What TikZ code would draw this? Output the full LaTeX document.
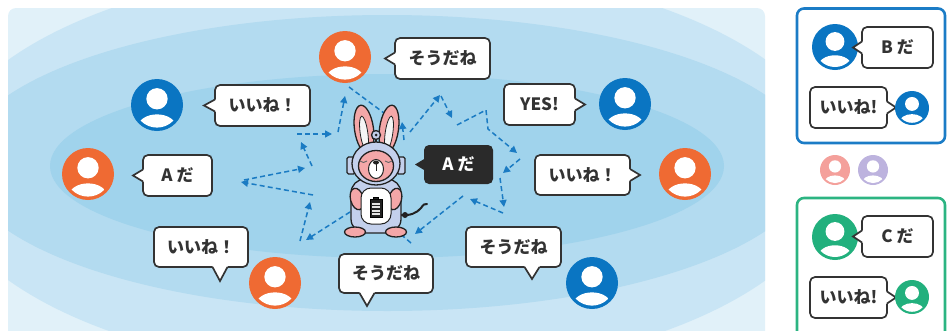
\documentclass[tikz,border=0pt]{standalone}
\usepackage{fontspec}
\newfontfamily\jp{Noto Sans CJK JP}
\usetikzlibrary{arrows.meta,calc}

\definecolor{bgA}{HTML}{E1F1F9}
\definecolor{bgB}{HTML}{C9E5F5}
\definecolor{bgC}{HTML}{B3DBF0}
\definecolor{bgD}{HTML}{A0D3EC}
\definecolor{porange}{HTML}{EF6A33}
\definecolor{pblue}{HTML}{0A75C2}
\definecolor{pgreen}{HTML}{22B07D}
\definecolor{ppink}{HTML}{F4A09B}
\definecolor{plilac}{HTML}{BDB3DE}
\definecolor{boxblue}{HTML}{1B7CC6}
\definecolor{boxgreen}{HTML}{2CB482}
\definecolor{ink}{HTML}{333333}
\definecolor{darkbub}{HTML}{2A2A2A}
\definecolor{flow}{HTML}{1A7BC3}
\definecolor{rpink}{HTML}{F4A7A8}
\definecolor{rsuit}{HTML}{C3D0EC}
\definecolor{rline}{HTML}{222222}

\tikzset{
  person/.style 2 args={circle, inner sep=0pt, outer sep=0pt, minimum size={2*#2}, fill=#1,
    path picture={
      \begin{scope}[shift={(path picture bounding box.center)}]
        \fill[white] (0,-0.24*#2) circle (0.41*#2);
        \clip (0,0) circle (0.87*#2);
        \fill[white] (0,0.86*#2) ellipse (0.74*#2 and 0.5*#2);
      \end{scope}}},
  bubble/.style={draw=ink, line width=1.7pt, fill=white, rounded corners=5pt,
    inner sep=0pt, outer sep=0pt, text=ink, font=\jp\bfseries\fontsize{17}{17}\selectfont},
  darkbubble/.style={fill=darkbub, rounded corners=5pt, inner sep=0pt, outer sep=0pt,
    text=white, font=\jp\bfseries\fontsize{17}{17}\selectfont},
  tipline/.style={draw=ink, line width=1.7pt},
  flowline/.style={draw=flow, line width=1.5pt, dash pattern=on 5pt off 3.2pt},
  flowarrow/.style={flowline, -{Triangle[length=7pt,width=7pt]}},
  rabbitline/.style={draw=rline, line width=1.3pt},
}

% side pointer of a speech bubble: base point, signed tip length, signed inward shift
\newcommand\tipH[3]{%
  \fill[white] ($(#1)+(#3,-6)$) -- ($(#1)+(0,-6)$) -- ($(#1)+(#2,0)$) -- ($(#1)+(0,6)$) -- ($(#1)+(#3,6)$) -- cycle;
  \draw[tipline] ($(#1)+(0,-6)$) -- ($(#1)+(#2,0)$) -- ($(#1)+(0,6)$);}
% bottom pointer of a speech bubble
\newcommand\tipV[3]{%
  \fill[white] ($(#1)+(-7.5,#3)$) -- ($(#1)+(-7.5,0)$) -- ($(#1)+(0,#2)$) -- ($(#1)+(7.5,0)$) -- ($(#1)+(7.5,#3)$) -- cycle;
  \draw[tipline] ($(#1)+(-7.5,0)$) -- ($(#1)+(0,#2)$) -- ($(#1)+(7.5,0)$);}

\begin{document}
\begin{tikzpicture}[x=1pt, y=-1pt]
\useasboundingbox (0,0) rectangle (947,330);

% ---------- main panel with layered ellipses ----------
\fill[bgA, rounded corners=8pt] (8,8) rectangle (765,345);
\begin{scope}
  \clip[rounded corners=8pt] (8,8) rectangle (765,345);
  \fill[bgB] (387,170) ellipse (449 and 205);
  \fill[bgC] (387,163) ellipse (426 and 148);
  \fill[bgD] (387,166) ellipse (337 and 92);
\end{scope}

% ---------- dashed message flow ----------
\coordinate (k1) at (313,195);  \coordinate (k2) at (241,182);
\coordinate (k3) at (244,180);  \coordinate (k4) at (305,168);
\coordinate (k5) at (312,166);  \coordinate (k6) at (301,142);
\coordinate (k7) at (297,134);  \coordinate (k8) at (332,134);
\coordinate (k9) at (338,132);  \coordinate (k10) at (345,96);
\coordinate (k11) at (349,87);  \coordinate (k12) at (384,113);
\coordinate (k13) at (404,140); \coordinate (k14) at (402,122);
\coordinate (k15) at (410,132); \coordinate (k16) at (440,95);
\coordinate (k17) at (441,96);  \coordinate (k18) at (452,118);
\coordinate (k19) at (457,125); \coordinate (k20) at (486,110);
\coordinate (k21) at (488,129); \coordinate (k22) at (517,153);
\coordinate (k23) at (520,159); \coordinate (k24) at (503,173);
\coordinate (k25) at (500,178); \coordinate (k26) at (504,207);
\coordinate (k27) at (503,213); \coordinate (k28) at (470,199);
\coordinate (k29) at (463,196); \coordinate (k30) at (415,234);
\coordinate (k31) at (411,243); \coordinate (k32) at (397,231);
\coordinate (k33) at (350,212); \coordinate (k34) at (306,240);
\coordinate (k35) at (300,241); \coordinate (k36) at (310,202);

\draw[flowarrow] (k1) -- (k2);
\draw[flowarrow] (k3) -- (k4);
\draw[flowarrow] (k5) -- (k6);
\draw[flowarrow] (k7) -- (k8);
\draw[flowarrow] (k9) -- (k10);
\draw[flowline]  (k11) -- (k12);
\draw[flowarrow] (k13) -- (k14);
\draw[flowarrow] (k15) -- (k16);
\draw[flowarrow] (k17) -- (k18);
\draw[flowarrow] (k19) -- (k20) -- (k21) -- (k22);
\draw[flowarrow] (k23) -- (k24);
\draw[flowarrow] (k25) -- (k26);
\draw[flowarrow] (k27) -- (k28);
\draw[flowarrow] (k29) -- (k30);
\draw[flowline]  (k31) -- (k32);
\draw[flowarrow] (k33) -- (k34);
\draw[flowarrow] (k35) -- (k36);

% ---------- people around the robot ----------
\node[person={porange}{26}] (p1) at (345,57) {};
\node[person={pblue}{26}]   (p2) at (157,105) {};
\node[person={porange}{26}] (p3) at (88,174) {};
\node[person={porange}{26}] (p4) at (275,283) {};
\node[person={pblue}{26}]   (p5) at (625,104) {};
\node[person={porange}{26}] (p6) at (685,174) {};
\node[person={pblue}{26}]   (p7) at (592,283) {};

% ---------- speech bubbles ----------
\node[bubble, minimum width=95pt, minimum height=41pt] (b1) at (262.5,105.5) {いいね！};
\tipH{b1.west}{-11}{2}
\node[bubble, minimum width=69pt, minimum height=41pt] (b2) at (177.5,175.5) {A だ};
\tipH{b2.west}{-10}{2}
\node[bubble, minimum width=94pt, minimum height=40pt] (b3) at (201,247) {いいね！};
\coordinate (b3p) at ($(b3.south)+(19,0)$);
\tipV{b3p}{14}{-2}
\node[bubble, minimum width=95pt, minimum height=41pt] (b4) at (442.5,58.5) {そうだね};
\tipH{b4.west}{-10}{2}
\node[bubble, minimum width=71pt, minimum height=41pt] (b5) at (539.5,104.5) {YES!};
\tipH{b5.east}{10}{-2}
\node[bubble, minimum width=95pt, minimum height=40pt] (b7) at (582.5,175) {いいね！};
\tipH{b7.east}{10}{-2}
\node[bubble, minimum width=94pt, minimum height=39pt] (b8) at (386,273.5) {そうだね};
\coordinate (b8p) at ($(b8.south)+(-19,0)$);
\tipV{b8p}{13}{-2}
\node[bubble, minimum width=95pt, minimum height=40pt] (b9) at (513.5,247) {そうだね};
\coordinate (b9p) at ($(b9.south)+(18.5,0)$);
\tipV{b9p}{12}{-2}

% the robot's own message
\node[darkbubble, minimum width=69pt, minimum height=39pt] (b6) at (458.5,164.5) {A だ};
\fill[darkbub] ($(b6.west)+(1,-6)$) -- ($(b6.west)+(-9,0)$) -- ($(b6.west)+(1,6)$) -- cycle;

% ---------- rabbit robot ----------
% ears
\filldraw[fill=rpink, rabbitline, rotate around={8:(364,129)}] (364,129) ellipse (9.5 and 24);
\filldraw[fill=rpink, rabbitline, rotate around={-8:(389,129)}] (389,129) ellipse (9.5 and 24);
\filldraw[fill=white!92!gray, draw=rline, line width=0.8pt, rotate around={8:(364,133)}] (364,133) ellipse (3.8 and 17);
\filldraw[fill=white!92!gray, draw=rline, line width=0.8pt, rotate around={-8:(389,133)}] (389,133) ellipse (3.8 and 17);
% tail
\draw[draw=rline, line width=2pt, line cap=round] (400,215) .. controls (410,216) and (417,213) .. (421,208) .. controls (423,205) and (425,203) .. (427,204);
\fill[rline] (405,215) circle (3);
% body suit
\filldraw[fill=rsuit, rabbitline, rounded corners=14pt] (351,179) rectangle (401,233);
% arms
\filldraw[fill=rpink, rabbitline, rotate around={15:(357,199)}] (357,199) ellipse (6.5 and 11);
\filldraw[fill=rpink, rabbitline, rotate around={-15:(395,199)}] (395,199) ellipse (6.5 and 11);
% belly plate with battery
\filldraw[fill=white, draw=rline, line width=1pt, rounded corners=10pt] (361,188) rectangle (391,224);
\filldraw[fill=rline] (373.5,197) rectangle (378.5,199.5);
\filldraw[fill=rline] (370,199.5) rectangle (382,217);
\foreach \yy in {202.5,206,209.5,213} {\fill[white!80!gray] (372,\yy) rectangle (380,\yy+2);}
% feet
\filldraw[fill=rpink, rabbitline] (355,232) ellipse (10.5 and 5);
\filldraw[fill=rpink, rabbitline] (396,232) ellipse (10.5 and 5);
% antenna
\draw[rabbitline] (376,139) -- (376,143);
\filldraw[fill=rsuit, rabbitline] (376,135) circle (4.5);
\fill[rline] (376,135) circle (1.5);
% helmet side pieces
\filldraw[fill=rsuit, rabbitline, rounded corners=1.5pt] (347,157) rectangle (355,174);
\filldraw[fill=rsuit, rabbitline, rounded corners=1.5pt] (397,157) rectangle (405,174);
% helmet and face
\filldraw[fill=rsuit, rabbitline] (376,163.5) ellipse (24 and 21.5);
\filldraw[fill=rpink, rabbitline] (376,166) ellipse (17.5 and 15.5);
\draw[draw=rline!70, line width=0.9pt] (360,161) .. controls (362,163) and (365,163) .. (367,161);
\draw[draw=rline!70, line width=0.9pt] (385,161) .. controls (387,163) and (390,163) .. (392,161);
\filldraw[fill=white, draw=rline, line width=1pt] (376,169) ellipse (7.5 and 9.5);
\fill[rline] (376,162.5) ellipse (3 and 2);
\draw[draw=rline, line width=0.9pt] (376,164) -- (376,171);

% ---------- right-hand groups ----------
\draw[boxblue, line width=2.6pt, rounded corners=7pt] (797,8.5) rectangle (945,143);
\node[person={pblue}{23}] (q1) at (835,47) {};
\node[bubble, minimum width=71pt, minimum height=41pt] (c1) at (897.5,47.5) {B だ};
\tipH{c1.west}{-9}{2}
\node[bubble, minimum width=77pt, minimum height=41pt] (c2) at (848.5,107.5) {いいね!};
\tipH{c2.east}{9}{-2}
\node[person={pblue}{17}] (q2) at (912,108) {};

\node[person={ppink}{15}]  (q3) at (835,170) {};
\node[person={plilac}{15}] (q4) at (873,170) {};

\draw[boxgreen, line width=2.6pt, rounded corners=7pt] (797,198) rectangle (945,345);
\node[person={pgreen}{23}] (q5) at (835,237) {};
\node[bubble, minimum width=71pt, minimum height=41pt] (c3) at (897.5,236.5) {C だ};
\tipH{c3.west}{-9}{2}
\node[bubble, minimum width=77pt, minimum height=41pt] (c4) at (848.5,297.5) {いいね!};
\tipH{c4.east}{9}{-2}
\node[person={pgreen}{17}] (q6) at (912,297) {};
\end{tikzpicture}
\end{document}
